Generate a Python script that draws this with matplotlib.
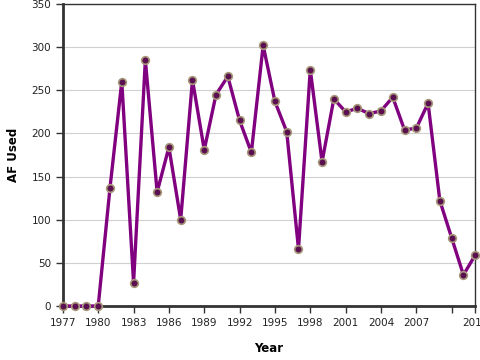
import matplotlib
matplotlib.use("Agg")
import matplotlib.pyplot as plt

years = list(range(1977, 2013))
af_used = [0, 0, 0, 0, 137, 260, 27, 285, 132, 184, 100, 262, 181, 245, 266,
           215, 178, 302, 237, 202, 66, 274, 167, 240, 225, 229, 223, 226,
           242, 204, 206, 235, 122, 79, 36, 59]

x_ticks = [1977, 1980, 1983, 1986, 1989, 1992, 1995, 1998, 2001, 2004, 2007, 2010, 2012]
x_labels = [str(t) if t != 2010 else "" for t in x_ticks]
y_ticks = list(range(0, 351, 50))

fig = plt.figure(figsize=(4.8, 3.6), dpi=100)
ax = fig.add_axes([0.131, 0.15, 0.859, 0.839])

ax.plot(years, af_used, color="#800080", lw=2.4, zorder=3,
        marker="o", markersize=5.5, markerfacecolor="#5a1050",
        markeredgecolor="#a8987a", markeredgewidth=1.2, clip_on=False)

ax.set_xlim(1977, 2012)
ax.set_ylim(0, 350)
ax.set_xticks(x_ticks)
ax.set_xticklabels(x_labels)
ax.set_yticks(y_ticks)
ax.yaxis.grid(True, color="#d0d0d0", lw=0.8)
ax.set_axisbelow(True)

for side in ["left", "bottom"]:
    ax.spines[side].set_linewidth(2)
    ax.spines[side].set_color("#333333")
for side in ["top", "right"]:
    ax.spines[side].set_linewidth(1)
    ax.spines[side].set_color("#333333")

ax.tick_params(axis="both", labelsize=7.5, length=5, width=1, color="#333333",
               labelcolor="#222222")

ax.set_xlabel("Year", fontsize=8.5, fontweight="bold", labelpad=10)
ax.set_ylabel("AF Used", fontsize=8.5, fontweight="bold", labelpad=8)

fig.savefig("out.png", dpi=100)
